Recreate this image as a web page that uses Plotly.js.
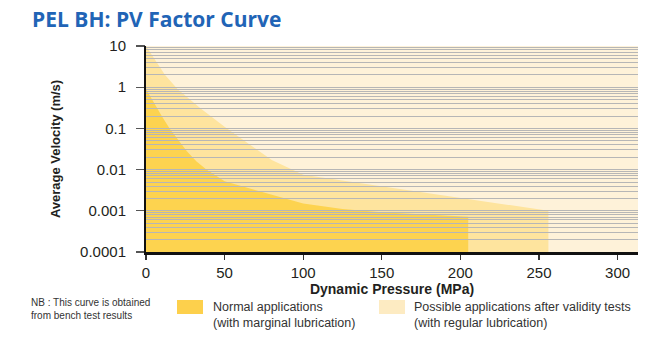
<!DOCTYPE html>
<html>
<head>
<meta charset="utf-8">
<script src="https://cdn.plot.ly/plotly-3.0.1.min.js"></script>
<style>
  html, body { margin: 0; padding: 0; background: #ffffff; }
  #chart { width: 670px; height: 352px; }
</style>
</head>
<body>
<div id="chart"></div>
<script>
// ---- Data ----
// "Normal applications" boundary (Dynamic Pressure MPa -> Average Velocity m/s)
const pressureNormal = [0, 5, 10, 15, 20, 26, 32, 38, 50, 100, 125, 150, 205];
const velocityNormal = [0.9, 0.42, 0.2, 0.1, 0.055, 0.028, 0.016, 0.0103, 0.0052, 0.0015, 0.0011, 0.00092, 0.00072];

// "Possible applications after validity tests" boundary
const pressurePossible = [0, 4, 12, 20, 35, 50, 65, 80, 100, 256];
const velocityPossible = [10, 5.9, 2.0, 0.9, 0.3, 0.11, 0.044, 0.017, 0.0075, 0.001];

// Axis ticks
const pressureTicks = [0, 50, 100, 150, 200, 250, 300];
const velocityTicks = [0.0001, 0.001, 0.01, 0.1, 1, 10];
const velocityTickText = ["0.0001", "0.001", "0.01", "0.1", "1", "10"];

// Labels
const seriesNames = ["Normal applications<br>(with marginal lubrication)",
                     "Possible applications after validity tests<br>(with regular lubrication)"];
const noteText = "NB : This curve is obtained<br>from bench test results";

// ---- Styles ----
const colNormal = "#FDD34F";
const colPossible = "#FEE49E";
const colBack = "#FEF2D9";
const colSwatchNormal = "#FDD04C";
const colSwatchPossible = "#FDEBC2";
const velocityFloor = velocityTicks[0];
const xMax = 313;

function closedArea(xs, ys) {
  const last = xs[xs.length - 1];
  return {
    x: xs.concat([last, xs[0]]),
    y: ys.concat([velocityFloor, velocityFloor])
  };
}

const possibleArea = closedArea(pressurePossible, velocityPossible);
const normalArea = closedArea(pressureNormal, velocityNormal);

const traces = [
  {
    type: "scatter", mode: "lines", name: "Possible applications",
    x: possibleArea.x, y: possibleArea.y,
    fill: "toself", fillcolor: colPossible,
    line: { width: 0, color: "rgba(0,0,0,0)" },
    hoverinfo: "skip", showlegend: false, xaxis: "x", yaxis: "y"
  },
  {
    type: "scatter", mode: "lines", name: "Normal applications",
    x: normalArea.x, y: normalArea.y,
    fill: "toself", fillcolor: colNormal,
    line: { width: 0, color: "rgba(0,0,0,0)" },
    hoverinfo: "skip", showlegend: false, xaxis: "x", yaxis: "y"
  },
  {
    // empty trace so the grid overlay subplot exists
    type: "scatter", mode: "lines", x: [], y: [],
    hoverinfo: "skip", showlegend: false, xaxis: "x2", yaxis: "y2"
  }
];

const tickFont = { family: "Liberation Sans, Arial, sans-serif", size: 15, color: "#231F20" };
const narrowFont = { family: "Liberation Sans Narrow, Arial Narrow, Liberation Sans, sans-serif", size: 12.5, color: "#333333" };

const layout = {
  width: 670, height: 352,
  margin: { l: 146, r: 32, t: 46, b: 100 },
  paper_bgcolor: "#ffffff",
  plot_bgcolor: "rgba(0,0,0,0)",
  showlegend: false,
  title: {
    text: "PEL BH: PV Factor Curve",
    xref: "container", yref: "container",
    x: 32 / 670, xanchor: "left",
    y: 1 - 19.5 / 352, yanchor: "middle",
    font: { family: "Open Sans, sans-serif", size: 21, weight: 700, color: "#2164B6" }
  },
  xaxis: {
    domain: [0, 1], range: [0, xMax],
    tickvals: pressureTicks, ticks: "outside", ticklen: 7, tickwidth: 1.3, tickcolor: "#333",
    showgrid: false, zeroline: false, showline: false,
    tickfont: tickFont,
    title: { text: "Dynamic Pressure (MPa)", standoff: 3,
             font: { family: "Liberation Sans, Arial, sans-serif", size: 14, weight: 700, color: "#231F20" } }
  },
  yaxis: {
    domain: [0, 1], type: "log", range: [-4, 1],
    tickvals: velocityTicks, ticktext: velocityTickText,
    ticks: "outside", ticklen: 9, tickwidth: 1.2, tickcolor: "#555",
    ticklabelstandoff: 7,
    showgrid: false, zeroline: false, showline: false,
    tickfont: tickFont,
    title: { text: "Average Velocity (m/s)", standoff: 16,
             font: { family: "Liberation Sans, Arial, sans-serif", size: 13, weight: 700, color: "#231F20" } }
  },
  xaxis2: {
    domain: [0, 1], anchor: "y2", range: [0, xMax],
    showticklabels: false, ticks: "", showgrid: false, zeroline: false,
    showline: true, linecolor: "#111111", linewidth: 2.5
  },
  yaxis2: {
    domain: [0, 1], anchor: "x2", type: "log", range: [-4, 1], dtick: "D1",
    showticklabels: false, ticks: "", showgrid: true, gridcolor: "#B6B6B6", gridwidth: 1,
    zeroline: false, showline: true, linecolor: "#111111", linewidth: 2.5
  },
  shapes: [
    { type: "rect", xref: "x domain", yref: "y domain", x0: 0, x1: 1, y0: 0, y1: 1,
      fillcolor: colBack, line: { width: 0 }, layer: "below" },
    { type: "rect", xref: "paper", yref: "paper",
      x0: (177 - 146) / 492, x1: (203 - 146) / 492, y0: (252 - 314) / 206, y1: (252 - 300) / 206,
      fillcolor: colSwatchNormal, line: { width: 0 } },
    { type: "rect", xref: "paper", yref: "paper",
      x0: (379 - 146) / 492, x1: (405 - 146) / 492, y0: (252 - 314) / 206, y1: (252 - 300) / 206,
      fillcolor: colSwatchPossible, line: { width: 0 } }
  ],
  annotations: [
    { xref: "paper", yref: "paper", x: (29 - 146) / 492, y: (252 - 309) / 206,
      xanchor: "left", yanchor: "middle", align: "left", showarrow: false,
      text: noteText, font: { family: narrowFont.family, size: 10, color: "#333333" } },
    { xref: "paper", yref: "paper", x: (211 - 146) / 492, y: (252 - 315) / 206,
      xanchor: "left", yanchor: "middle", align: "left", showarrow: false,
      text: seriesNames[0], font: narrowFont },
    { xref: "paper", yref: "paper", x: (412 - 146) / 492, y: (252 - 315) / 206,
      xanchor: "left", yanchor: "middle", align: "left", showarrow: false,
      text: seriesNames[1], font: narrowFont }
  ]
};

Plotly.newPlot("chart", traces, layout, { staticPlot: true, displayModeBar: false });
</script>
</body>
</html>
